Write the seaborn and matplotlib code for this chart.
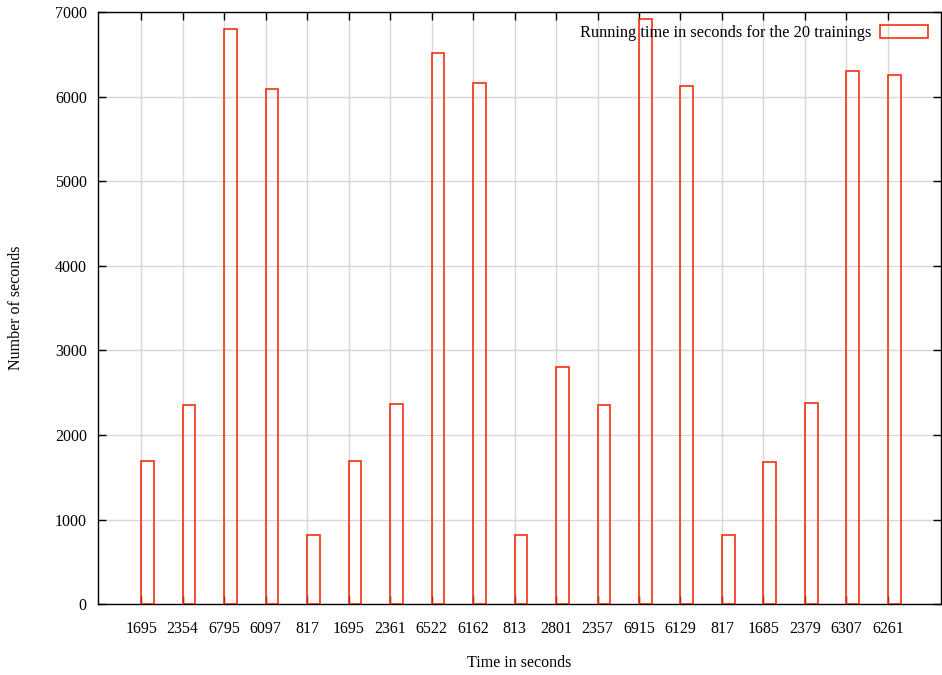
import matplotlib
matplotlib.use("Agg")
import matplotlib.pyplot as plt
from matplotlib.patches import Patch
import numpy as np
import pandas as pd
import seaborn as sns

# running time of each training, in seconds (also used as tick labels)
runs = [1695, 2354, 6795, 6097, 817, 1695, 2361, 6522, 6162, 813,
        2801, 2357, 6915, 6129, 817, 1685, 2379, 6307, 6261]
tick_labels = [str(v) for v in runs]
y_ticks = [0, 1000, 2000, 3000, 4000, 5000, 6000, 7000]

sns.set_theme(style="white")
plt.rcParams['font.family'] = ['Liberation Serif', 'DejaVu Serif']
plt.rcParams['text.color'] = 'black'
plt.rcParams['axes.labelcolor'] = 'black'
plt.rcParams['xtick.color'] = 'black'
plt.rcParams['ytick.color'] = 'black'

red = '#f5300f'
bar_w = 0.31
pos = np.arange(len(runs))
df = pd.DataFrame({'x': pos + bar_w / 2, 'secs': runs})

fig = plt.figure(figsize=(9.42, 6.75), dpi=100)
ax = fig.add_axes([0.104, 0.105, 0.895, 0.877])

sns.barplot(data=df, x='x', y='secs', native_scale=True, width=bar_w,
            fill=False, color=red, linewidth=1.2, ax=ax, zorder=3)
for p in ax.patches:
    p.set_edgecolor(red)
    p.set_facecolor('none')

ax.set_xlim(-1.04, 19.28)
ax.set_ylim(0, 7000)
ax.set_xticks(pos)
ax.set_xticklabels(tick_labels)
ax.set_yticks(y_ticks)
ax.grid(True, color='#d8d8d8', linewidth=1, zorder=0)
ax.set_axisbelow(True)

ax.tick_params(axis='both', direction='in', length=6, width=1, color='black',
               labelsize=11.5, labelcolor='black',
               top=True, right=True, bottom=True, left=True)
ax.tick_params(axis='x', pad=12)
ax.tick_params(axis='y', pad=8)
for sp in ax.spines.values():
    sp.set_color('black')
    sp.set_linewidth(1)

ax.set_xlabel('Time in seconds', fontsize=11.5, labelpad=13)
ax.set_ylabel('Number of seconds', fontsize=11.5, labelpad=22)

handle = Patch(facecolor='none', edgecolor=red, linewidth=1.2)
ax.legend([handle], ['Running time in seconds for the 20 trainings'],
          loc='upper right', frameon=False, markerfirst=False, fontsize=11.8,
          handlelength=2.9, handleheight=0.8, borderaxespad=0.4,
          handletextpad=0.55)

fig.savefig('out.png', dpi=100)
